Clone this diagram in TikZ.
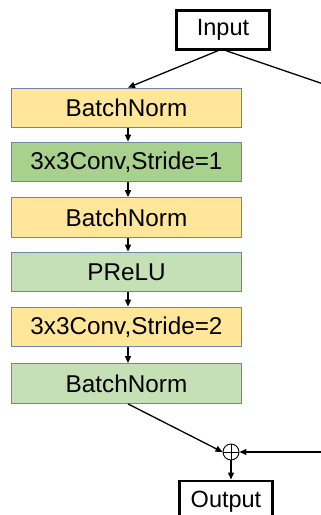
\documentclass[tikz,border=0pt]{standalone}
\usepackage{fontspec}
\setmainfont{Liberation Sans}
\usetikzlibrary{arrows.meta}
\definecolor{byellow}{HTML}{FFE699}
\definecolor{dgreen}{HTML}{A9D18E}
\definecolor{lgreen}{HTML}{C5E0B4}
\definecolor{bedge}{HTML}{6F86A8}
\tikzset{
  layer/.style={draw=bedge, line width=1.3pt, minimum width=230pt, minimum height=39.5pt, inner sep=0pt, font=\fontsize{24.3}{28}\selectfont},
  io/.style={draw=black, line width=2.4pt, inner sep=0pt, font=\fontsize{23.5}{27}\selectfont},
  conn/.style={line width=1.3pt, -{Triangle[length=7pt,width=6pt]}},
  plain/.style={line width=1.3pt}
}
\begin{document}
\begin{tikzpicture}[x=1pt,y=-1pt]
\clip (0,0) rectangle (321,515);
\fill[white] (0,0) rectangle (321,515);
\node[io, minimum width=93pt, minimum height=39pt] (in) at (223,30) {Input};
\node[layer, fill=byellow] (b1) at (126.5,108) {BatchNorm};
\node[layer, fill=dgreen] (b2) at (126.5,162) {3x3Conv,Stride=1};
\node[layer, fill=byellow] (b3) at (126.5,217.5) {BatchNorm};
\node[layer, fill=lgreen] (b4) at (126.5,272) {PReLU};
\node[layer, fill=byellow] (b5) at (126.5,327) {3x3Conv,Stride=2};
\node[layer, fill=lgreen] (b6) at (126.5,383.5) {BatchNorm};
\node[draw=black, circle, line width=0.9pt, minimum size=16pt, inner sep=0pt,
  path picture={\draw[line width=0.9pt] (path picture bounding box.north) -- (path picture bounding box.south) (path picture bounding box.west) -- (path picture bounding box.east);}] (add) at (231,452) {};
\node[io, minimum width=93pt, minimum height=44pt, anchor=north] (out) at (226,479.5) {};
\node at (226,502) {\fontsize{23.5}{27}\selectfont Output};
\coordinate (s1) at (335,88);
\coordinate (s2) at (335,452);
\draw[conn] ([xshift=-5pt]in.south) -- ([xshift=1.5pt]b1.north);
\draw[plain] ([xshift=3pt]in.south) -- (s1) -- (s2);
\draw[conn] (s2) -- (add.east);
\foreach \a/\b in {b1/b2,b2/b3,b3/b4,b4/b5,b5/b6}{
  \draw[conn] ([xshift=1.5pt]\a.south) -- ([xshift=1.5pt]\b.north);
}
\draw[conn] ([xshift=1.5pt]b6.south) -- (add.west);
\draw[conn] (add.south) -- (add.south |- out.north);
\end{tikzpicture}
\end{document}
